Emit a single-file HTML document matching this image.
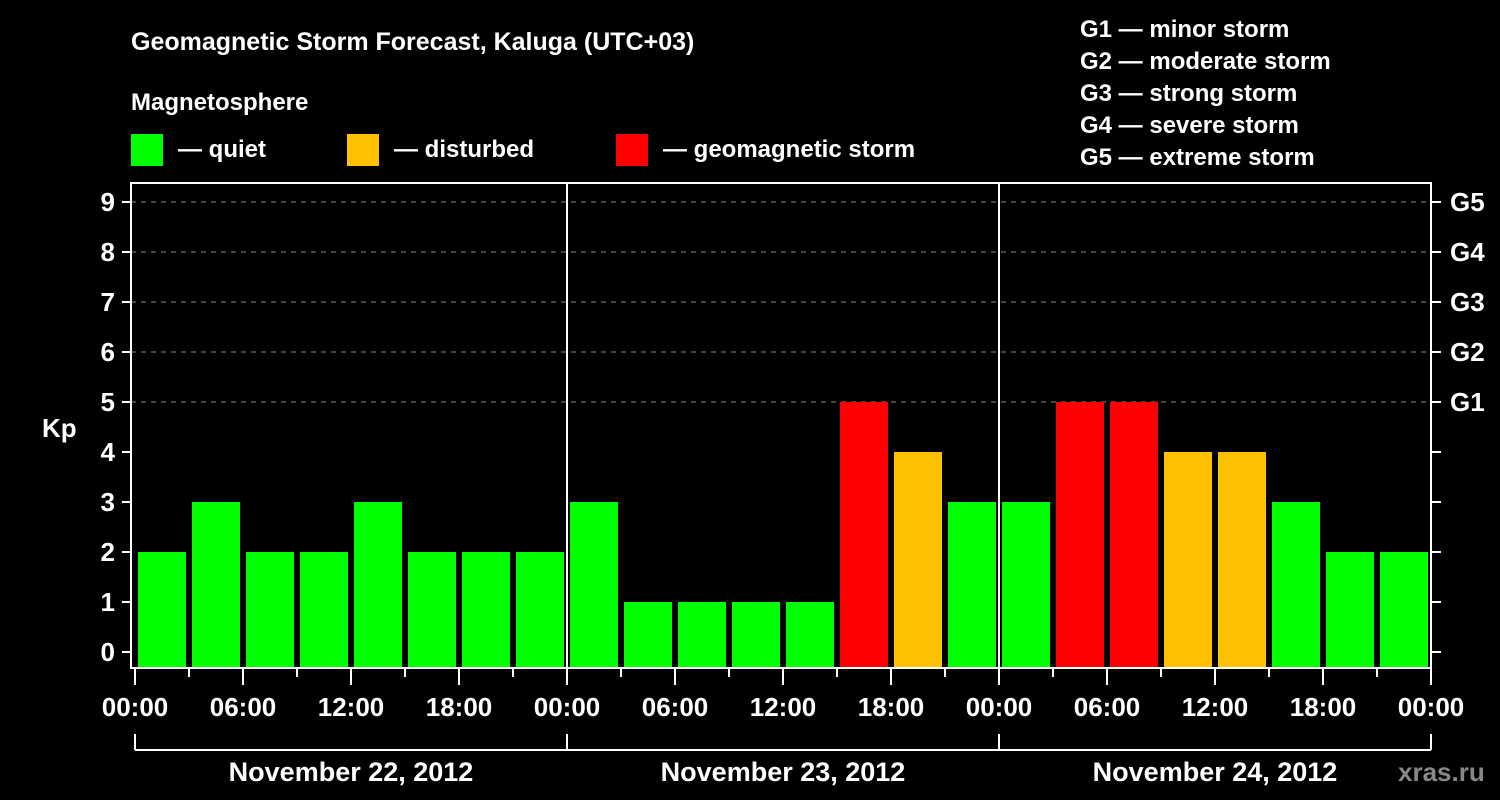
<!DOCTYPE html>
<html><head><meta charset="utf-8"><style>
html,body{margin:0;padding:0;background:#000;}
svg{display:block;font-family:"Liberation Sans",Arial,sans-serif;font-weight:bold;}
</style></head><body>
<svg id="chart" width="1500" height="800" viewBox="0 0 1500 800">
<rect width="1500" height="800" fill="#000"/>
<text x="131" y="50" fill="#fff" font-size="25">Geomagnetic Storm Forecast, Kaluga (UTC+03)</text>
<text x="131" y="110" fill="#fff" font-size="24">Magnetosphere</text>
<g><rect x="131" y="134" width="32" height="32" fill="#00ff00"/><text x="178" y="157" fill="#fff" font-size="24">— quiet</text></g>
<g><rect x="347" y="134" width="32" height="32" fill="#ffc000"/><text x="394" y="157" fill="#fff" font-size="24">— disturbed</text></g>
<g><rect x="616" y="134" width="32" height="32" fill="#ff0000"/><text x="663" y="157" fill="#fff" font-size="24">— geomagnetic storm</text></g>
<g fill="#fff" font-size="24">
<text x="1080" y="37">G1 — minor storm</text>
<text x="1080" y="69">G2 — moderate storm</text>
<text x="1080" y="101">G3 — strong storm</text>
<text x="1080" y="133">G4 — severe storm</text>
<text x="1080" y="165">G5 — extreme storm</text>
</g>
<text x="42" y="437" fill="#fff" font-size="26">Kp</text>
<text x="1398" y="781" fill="#888" font-size="26">xras.ru</text>
<g id="grid"></g><g id="bars"></g><g id="axes"></g>
</svg>
<script>
const values = [2,3,2,2,3,2,2,2, 3,1,1,1,1,5,4,3, 3,5,5,4,4,3,2,2];
const dates = ["November 22, 2012","November 23, 2012","November 24, 2012"];
const hourLabels = ["00:00","06:00","12:00","18:00"];
const yTicks = [0,1,2,3,4,5,6,7,8,9];
const gLabels = ["G1","G2","G3","G4","G5"];
const NS="http://www.w3.org/2000/svg";
const x = h => 135 + h*18;
const y = v => 652 - v*50;
function mk(tag, attrs, parent){const e=document.createElementNS(NS,tag);for(const k in attrs)e.setAttribute(k,attrs[k]);parent.appendChild(e);return e;}
const grid=document.getElementById('grid'), bars=document.getElementById('bars'), axes=document.getElementById('axes');
const color = v => v>=5?"#ff0000":(v===4?"#ffc000":"#00ff00");
yTicks.forEach(v=>{
  if(v>=5){const l=mk('line',{x1:131,x2:1431,y1:y(v),y2:y(v),stroke:'#888','stroke-dasharray':'5,5','stroke-width':1},grid);
  }
  const t=mk('line',{x1:122,x2:131,y1:y(v),y2:y(v),stroke:'#fff','stroke-width':2},axes);
  
  const tr=mk('line',{x1:1431,x2:1441,y1:y(v),y2:y(v),stroke:'#fff','stroke-width':2},axes);
  
  const tl=mk('text',{x:115,y:y(v)+9,fill:'#fff','font-size':26,'text-anchor':'end'},axes);tl.textContent=v;
  
});
gLabels.forEach((g,i)=>{const t=mk('text',{x:1450,y:y(5+i)+9,fill:'#fff','font-size':26},axes);t.textContent=g;
  });
values.forEach((v,i)=>{
  const r=mk('rect',{x:x(i*3)+3,y:y(v),width:48,height:668-y(v),fill:color(v)},bars);
  
});
const f=mk('rect',{x:131,y:183,width:1300,height:485,fill:'none',stroke:'#fff','stroke-width':2},axes);

[1,2].forEach(d=>{const l=mk('line',{x1:x(d*24),x2:x(d*24),y1:183,y2:668,stroke:'#fff','stroke-width':2},axes);
  });
for(let h=0;h<=72;h+=3){
  const major=h%6===0;
  const t=mk('line',{x1:x(h),x2:x(h),y1:668,y2:major?685:677,stroke:'#fff','stroke-width':2},axes);
  
  if(major){const tl=mk('text',{x:x(h),y:716,fill:'#fff','font-size':26,'text-anchor':'middle'},axes);
    tl.textContent=hourLabels[(h/6)%4];
    }
}
const b=mk('line',{x1:x(0),x2:x(72),y1:750,y2:750,stroke:'#fff','stroke-width':2},axes);

for(let d=0;d<=3;d++){const l=mk('line',{x1:x(d*24),x2:x(d*24),y1:734,y2:750,stroke:'#fff','stroke-width':2},axes);
  }
dates.forEach((d,i)=>{const t=mk('text',{x:x(i*24+12),y:781,fill:'#fff','font-size':27,'text-anchor':'middle'},axes);t.textContent=d;
  });
</script>
</body></html>
